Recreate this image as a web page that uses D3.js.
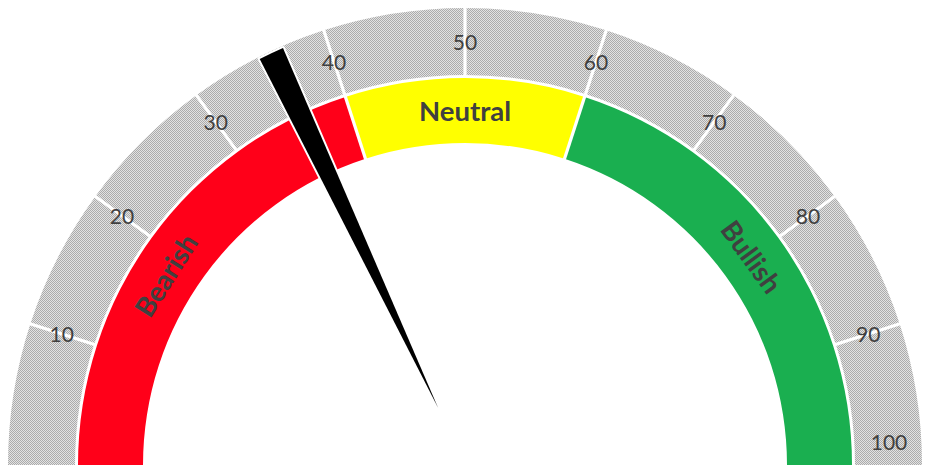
<!DOCTYPE html>
<html>
<head>
<meta charset="utf-8">
<script src="https://cdn.jsdelivr.net/npm/d3@7"></script>
<style>
  html, body { margin: 0; padding: 0; background: #ffffff; }
  svg { display: block; }
</style>
</head>
<body>
<svg id="chart" width="936" height="470"></svg>
<script>
// ---- data ----
const scaleMin = 0;
const scaleMax = 100;
const tickValues = [10, 20, 30, 40, 50, 60, 70, 80, 90, 100];
const tickLabels = ["10", "20", "30", "40", "50", "60", "70", "80", "90", "100"];
const outerSegments = [0, 10, 20, 30, 40, 50, 60, 70, 80, 90, 100];
const zoneNames = ["Bearish", "Neutral", "Bullish"];
const zoneStarts = [0, 40, 60];
const zoneEnds = [40, 60, 100];
const zoneColors = ["#ff0019", "#ffff00", "#1aaf50"];
const needleValue = 36;
const needleWidth = 1.8;

// ---- layout ----
const svg = d3.select("#chart");
const cx = 465, cy = 465;
const rOuter = 457, rGrayIn = 390;
const rColorOut = 387, rColorIn = 322;
const rLabel = 424;
const rNeedleTip = 63, rNeedleTop = 455;

const angle = d3.scaleLinear().domain([scaleMin, scaleMax]).range([-Math.PI / 2, Math.PI / 2]);
const polar = (r, a) => [cx + r * Math.sin(a), cy - r * Math.cos(a)];

// pattern for gray ring
const defs = svg.append("defs");
const pat = defs.append("pattern")
  .attr("id", "dots").attr("width", 2).attr("height", 2)
  .attr("patternUnits", "userSpaceOnUse");
pat.append("rect").attr("width", 2).attr("height", 2).attr("fill", "#e2e2e2");
pat.append("rect").attr("x", 0).attr("y", 0).attr("width", 1).attr("height", 1).attr("fill", "#ababab");
pat.append("rect").attr("x", 1).attr("y", 1).attr("width", 1).attr("height", 1).attr("fill", "#ababab");

const g = svg.append("g").attr("transform", `translate(${cx},${cy})`);

// outer gray ring
const outerArc = d3.arc().innerRadius(rGrayIn).outerRadius(rOuter);
const segs = d3.pairs(outerSegments);
g.selectAll("path.seg").data(segs).join("path")
  .attr("class", "seg")
  .attr("d", d => outerArc({ startAngle: angle(d[0]), endAngle: angle(d[1]) }))
  .attr("fill", "url(#dots)");

// inner colored ring
const innerArc = d3.arc().innerRadius(rColorIn).outerRadius(rColorOut);
const zones = zoneNames.map((n, i) => ({ name: n, s: zoneStarts[i], e: zoneEnds[i], c: zoneColors[i] }));
g.selectAll("path.zone").data(zones).join("path")
  .attr("class", "zone")
  .attr("d", d => innerArc({ startAngle: angle(d.s), endAngle: angle(d.e) }))
  .attr("fill", d => d.c);

// separators
const sepLine = (v, r0, r1) => {
  const a = angle(v);
  return `M${r0 * Math.sin(a)},${-r0 * Math.cos(a)}L${r1 * Math.sin(a)},${-r1 * Math.cos(a)}`;
};
g.selectAll("path.sepOuter").data(outerSegments.slice(1, -1)).join("path")
  .attr("class", "sepOuter")
  .attr("d", v => sepLine(v, rGrayIn - 2, rOuter + 2))
  .attr("stroke", "#ffffff").attr("stroke-width", 3.2);
g.selectAll("path.sepInner").data(zoneStarts.slice(1)).join("path")
  .attr("class", "sepInner")
  .attr("d", v => sepLine(v, rColorIn - 2, rColorOut + 2))
  .attr("stroke", "#ffffff").attr("stroke-width", 3.2);

// tick labels
g.selectAll("text.tick").data(tickValues).join("text")
  .attr("class", "tick")
  .attr("x", v => rLabel * Math.sin(angle(v)))
  .attr("y", v => Math.min(-rLabel * Math.cos(angle(v)), -24))
  .attr("text-anchor", "middle")
  .attr("dominant-baseline", "central")
  .attr("font-family", "Lato, 'Open Sans', sans-serif")
  .attr("font-size", 21)
  .attr("fill", "#404040")
  .text((v, i) => tickLabels[i]);

// zone labels
const rZoneLabel = (rColorIn + rColorOut) / 2;
const zoneLabelValue = [needleValue / 2, (zoneStarts[1] + zoneEnds[1]) / 2, (zoneStarts[2] + zoneEnds[2]) / 2];
g.selectAll("text.zoneLabel").data(zones).join("text")
  .attr("class", "zoneLabel")
  .attr("transform", (d, i) => {
    const a = angle(zoneLabelValue[i]);
    return `translate(${rZoneLabel * Math.sin(a)},${-rZoneLabel * Math.cos(a)}) rotate(${a * 180 / Math.PI})`;
  })
  .attr("text-anchor", "middle")
  .attr("dominant-baseline", "central")
  .attr("font-family", "Lato, 'Open Sans', sans-serif")
  .attr("font-weight", "bold")
  .attr("font-size", 27.5)
  .attr("fill", "#404040")
  .text(d => d.name);

// needle
const aMid = angle(needleValue);
const aL = angle(needleValue - needleWidth / 2);
const aR = angle(needleValue + needleWidth / 2);
const tip = polar(rNeedleTip, aMid);
const p1 = polar(rNeedleTop, aL);
const np = d3.path();
np.moveTo(tip[0], tip[1]);
np.lineTo(p1[0], p1[1]);
np.arc(cx, cy, rNeedleTop, aL - Math.PI / 2, aR - Math.PI / 2, false);
np.closePath();
svg.append("path")
  .attr("d", np.toString())
  .attr("fill", "#000000")
  .attr("stroke", "#ffffff")
  .attr("stroke-width", 4)
  .attr("stroke-linejoin", "round")
  .attr("paint-order", "stroke");
</script>
</body>
</html>
